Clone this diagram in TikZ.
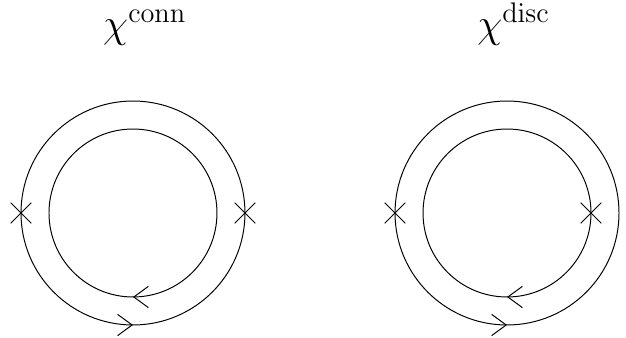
\documentclass[tikz,border=0pt]{standalone}
\usepackage{tikz}
\usetikzlibrary{arrows.meta, decorations.markings, shapes.misc}

\tikzset{
  insertion/.style={cross out, draw, minimum size=3.5mm, inner sep=0pt},
  prop fwd/.style={decoration={markings,
      mark=at position 0.75 with {\arrow{Straight Barb[length=2.6mm, width=3.8mm]}}},
    postaction={decorate}},
  prop bwd/.style={decoration={markings,
      mark=at position 0.75 with {\arrowreversed{Straight Barb[length=2.6mm, width=3.8mm]}}},
    postaction={decorate}},
  label/.style={anchor=base west, inner sep=0pt, font=\huge}
}

\begin{document}
\begin{tikzpicture}[line width=0.5pt]
  \useasboundingbox (-2.375,-2.232) rectangle (8.805,3.804);

  % connected
  \coordinate (cL) at (0,0);
  \node[label] (tconn) at (-0.54,3.13) {$\chi^{\rm conn}$};
  \draw[prop fwd] (cL) circle (2);
  \draw[prop bwd] (cL) circle (1.5);
  \node[insertion] (xL1) at ([xshift=-2cm]cL) {};
  \node[insertion] (xL2) at ([xshift=2cm]cL) {};

  % disconnected
  \coordinate (cR) at (6.68,0);
  \node[label] (tdisc) at (6.14,3.13) {$\chi^{\rm disc}$};
  \draw[prop fwd] (cR) circle (2);
  \draw[prop bwd] (cR) circle (1.5);
  \node[insertion] (xR1) at ([xshift=-2cm]cR) {};
  \node[insertion] (xR2) at ([xshift=1.5cm]cR) {};
\end{tikzpicture}
\end{document}
